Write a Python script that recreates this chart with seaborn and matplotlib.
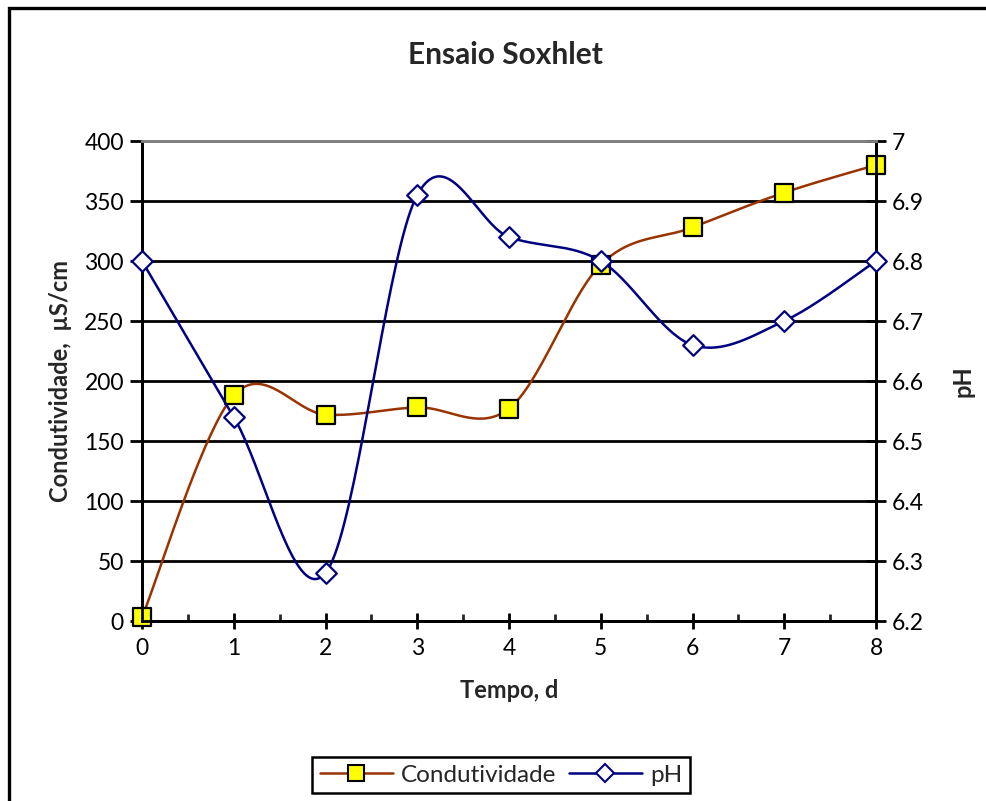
import numpy as np
import pandas as pd
import matplotlib
matplotlib.use("Agg")
import matplotlib.pyplot as plt
from matplotlib.lines import Line2D
from matplotlib.patches import Rectangle
import seaborn as sns

# Soxhlet test readings
tempo = [0, 1, 2, 3, 4, 5, 6, 7, 8]
condutividade = [3, 188, 172, 178, 177, 297, 328, 357, 380]
ph = [6.80, 6.54, 6.28, 6.91, 6.84, 6.80, 6.66, 6.70, 6.80]

cond_ticks = [0, 50, 100, 150, 200, 250, 300, 350, 400]
ph_ticks = [6.2, 6.3, 6.4, 6.5, 6.6, 6.7, 6.8, 6.9, 7.0]
ph_tick_labels = ["6.2", "6.3", "6.4", "6.5", "6.6", "6.7", "6.8", "6.9", "7"]

COND_COLOR = "#993300"
PH_COLOR = "#000080"
TICK_FS = 16.5
LABEL_FS = 17


def smooth(xs, ys, n=40):
    """Bezier smoothing through every point (Catmull-Rom style control points)."""
    p = np.column_stack([xs, ys]).astype(float)
    ext = np.vstack([p[0], p, p[-1]])
    t = np.linspace(0, 1, n)[:, None]
    out = []
    for i in range(len(p) - 1):
        p0, p1, p2, p3 = ext[i], ext[i + 1], ext[i + 2], ext[i + 3]
        c1 = p1 + (p2 - p0) / 6.0
        c2 = p2 - (p3 - p1) / 6.0
        seg = ((1 - t) ** 3) * p1 + 3 * ((1 - t) ** 2) * t * c1 \
            + 3 * (1 - t) * t ** 2 * c2 + t ** 3 * p2
        out.append(seg if i == 0 else seg[1:])
    out = np.vstack(out)
    return out[:, 0], out[:, 1]


sns.set_theme(style="white")
plt.rcParams["font.family"] = ["Lato", "DejaVu Sans"]

fig = plt.figure(figsize=(9.86, 8.01), dpi=100)
ax = fig.add_axes([142 / 986, 1 - 621 / 801, (876 - 142) / 986, (621 - 141) / 801])
ax2 = ax.twinx()

# outer chart frame (open to the right and bottom edges)
fig.patches.append(Rectangle((9 / 986, -0.05), 1.2, (801 - 8) / 801 + 0.05,
                             transform=fig.transFigure, fill=False,
                             edgecolor="black", linewidth=2.4, zorder=0))

cx, cy = smooth(tempo, condutividade)
px, py = smooth(tempo, ph)

df_c = pd.DataFrame({"x": cx, "y": cy})
df_p = pd.DataFrame({"x": px, "y": py})
pts_c = pd.DataFrame({"x": tempo, "y": condutividade})
pts_p = pd.DataFrame({"x": tempo, "y": ph})

sns.lineplot(data=df_c, x="x", y="y", ax=ax, color=COND_COLOR, linewidth=1.8,
             sort=False, estimator=None, zorder=3)
sns.scatterplot(data=pts_c, x="x", y="y", ax=ax, marker="s", s=150,
                color="#ffff00", edgecolor="black", linewidth=1.6, zorder=4,
                clip_on=False)
sns.lineplot(data=df_p, x="x", y="y", ax=ax2, color=PH_COLOR, linewidth=1.8,
             sort=False, estimator=None, zorder=3)
sns.scatterplot(data=pts_p, x="x", y="y", ax=ax2, marker="D", s=110,
                color="white", edgecolor=PH_COLOR, linewidth=1.6, zorder=4,
                clip_on=False)

ax.set_xlim(0, 8)
ax.set_ylim(0, 400)
ax2.set_ylim(6.2, 7.0)
ax.set_xticks(tempo)
ax.set_xticks(np.arange(0.5, 8, 1), minor=True)
ax.set_yticks(cond_ticks)
ax2.set_yticks(ph_ticks)
ax2.set_yticklabels(ph_tick_labels)

for a in (ax, ax2):
    a.set_facecolor("none")
ax.set_zorder(2)
ax2.set_zorder(3)

ax.yaxis.grid(True, color="black", linewidth=2.0)
ax.xaxis.grid(False)
ax2.grid(False)

for a in (ax, ax2):
    for name, sp in a.spines.items():
        sp.set_visible(True)
        sp.set_color("black")
        sp.set_linewidth(2.0)
    a.spines["top"].set_color("#808080")

ax.tick_params(axis="x", which="major", direction="inout", length=12, width=2,
               labelsize=TICK_FS, pad=6, bottom=True, colors="black")
ax.tick_params(axis="x", which="minor", direction="in", length=5, width=2,
               bottom=True)
ax.tick_params(axis="y", which="major", direction="out", length=9, width=2,
               labelsize=TICK_FS, pad=4, left=True, colors="black")
ax2.tick_params(axis="y", which="major", direction="inout", length=15, width=2,
                labelsize=TICK_FS, pad=4, right=True, colors="black")

ax.set_xlabel("Tempo, d", fontsize=LABEL_FS, fontweight="bold", labelpad=15)
ax.set_ylabel("Condutividade,  µS/cm", fontsize=LABEL_FS, fontweight="bold",
              labelpad=9)
ax2.set_ylabel("pH", fontsize=LABEL_FS, fontweight="bold", labelpad=20)

fig.text(505 / 986, 1 - 55 / 801, "Ensaio Soxhlet", ha="center", va="center",
         fontsize=21.5, fontweight="bold")

handles = [
    Line2D([0], [0], color=COND_COLOR, linewidth=1.8, marker="s",
           markersize=11, markerfacecolor="#ffff00", markeredgecolor="black",
           markeredgewidth=1.5),
    Line2D([0], [0], color=PH_COLOR, linewidth=1.8, marker="D",
           markersize=9, markerfacecolor="white", markeredgecolor=PH_COLOR,
           markeredgewidth=1.5),
]
leg = fig.legend(handles, ["Condutividade", "pH"], loc="center",
                 bbox_to_anchor=(501 / 986, 1 - 775 / 801), ncol=2,
                 fontsize=17.5, frameon=True, fancybox=False, framealpha=1,
                 edgecolor="black", handlelength=3.0, columnspacing=0.5,
                 handletextpad=0.35, borderpad=0.3)
leg.get_frame().set_linewidth(1.8)

fig.savefig("out.png", dpi=100)
